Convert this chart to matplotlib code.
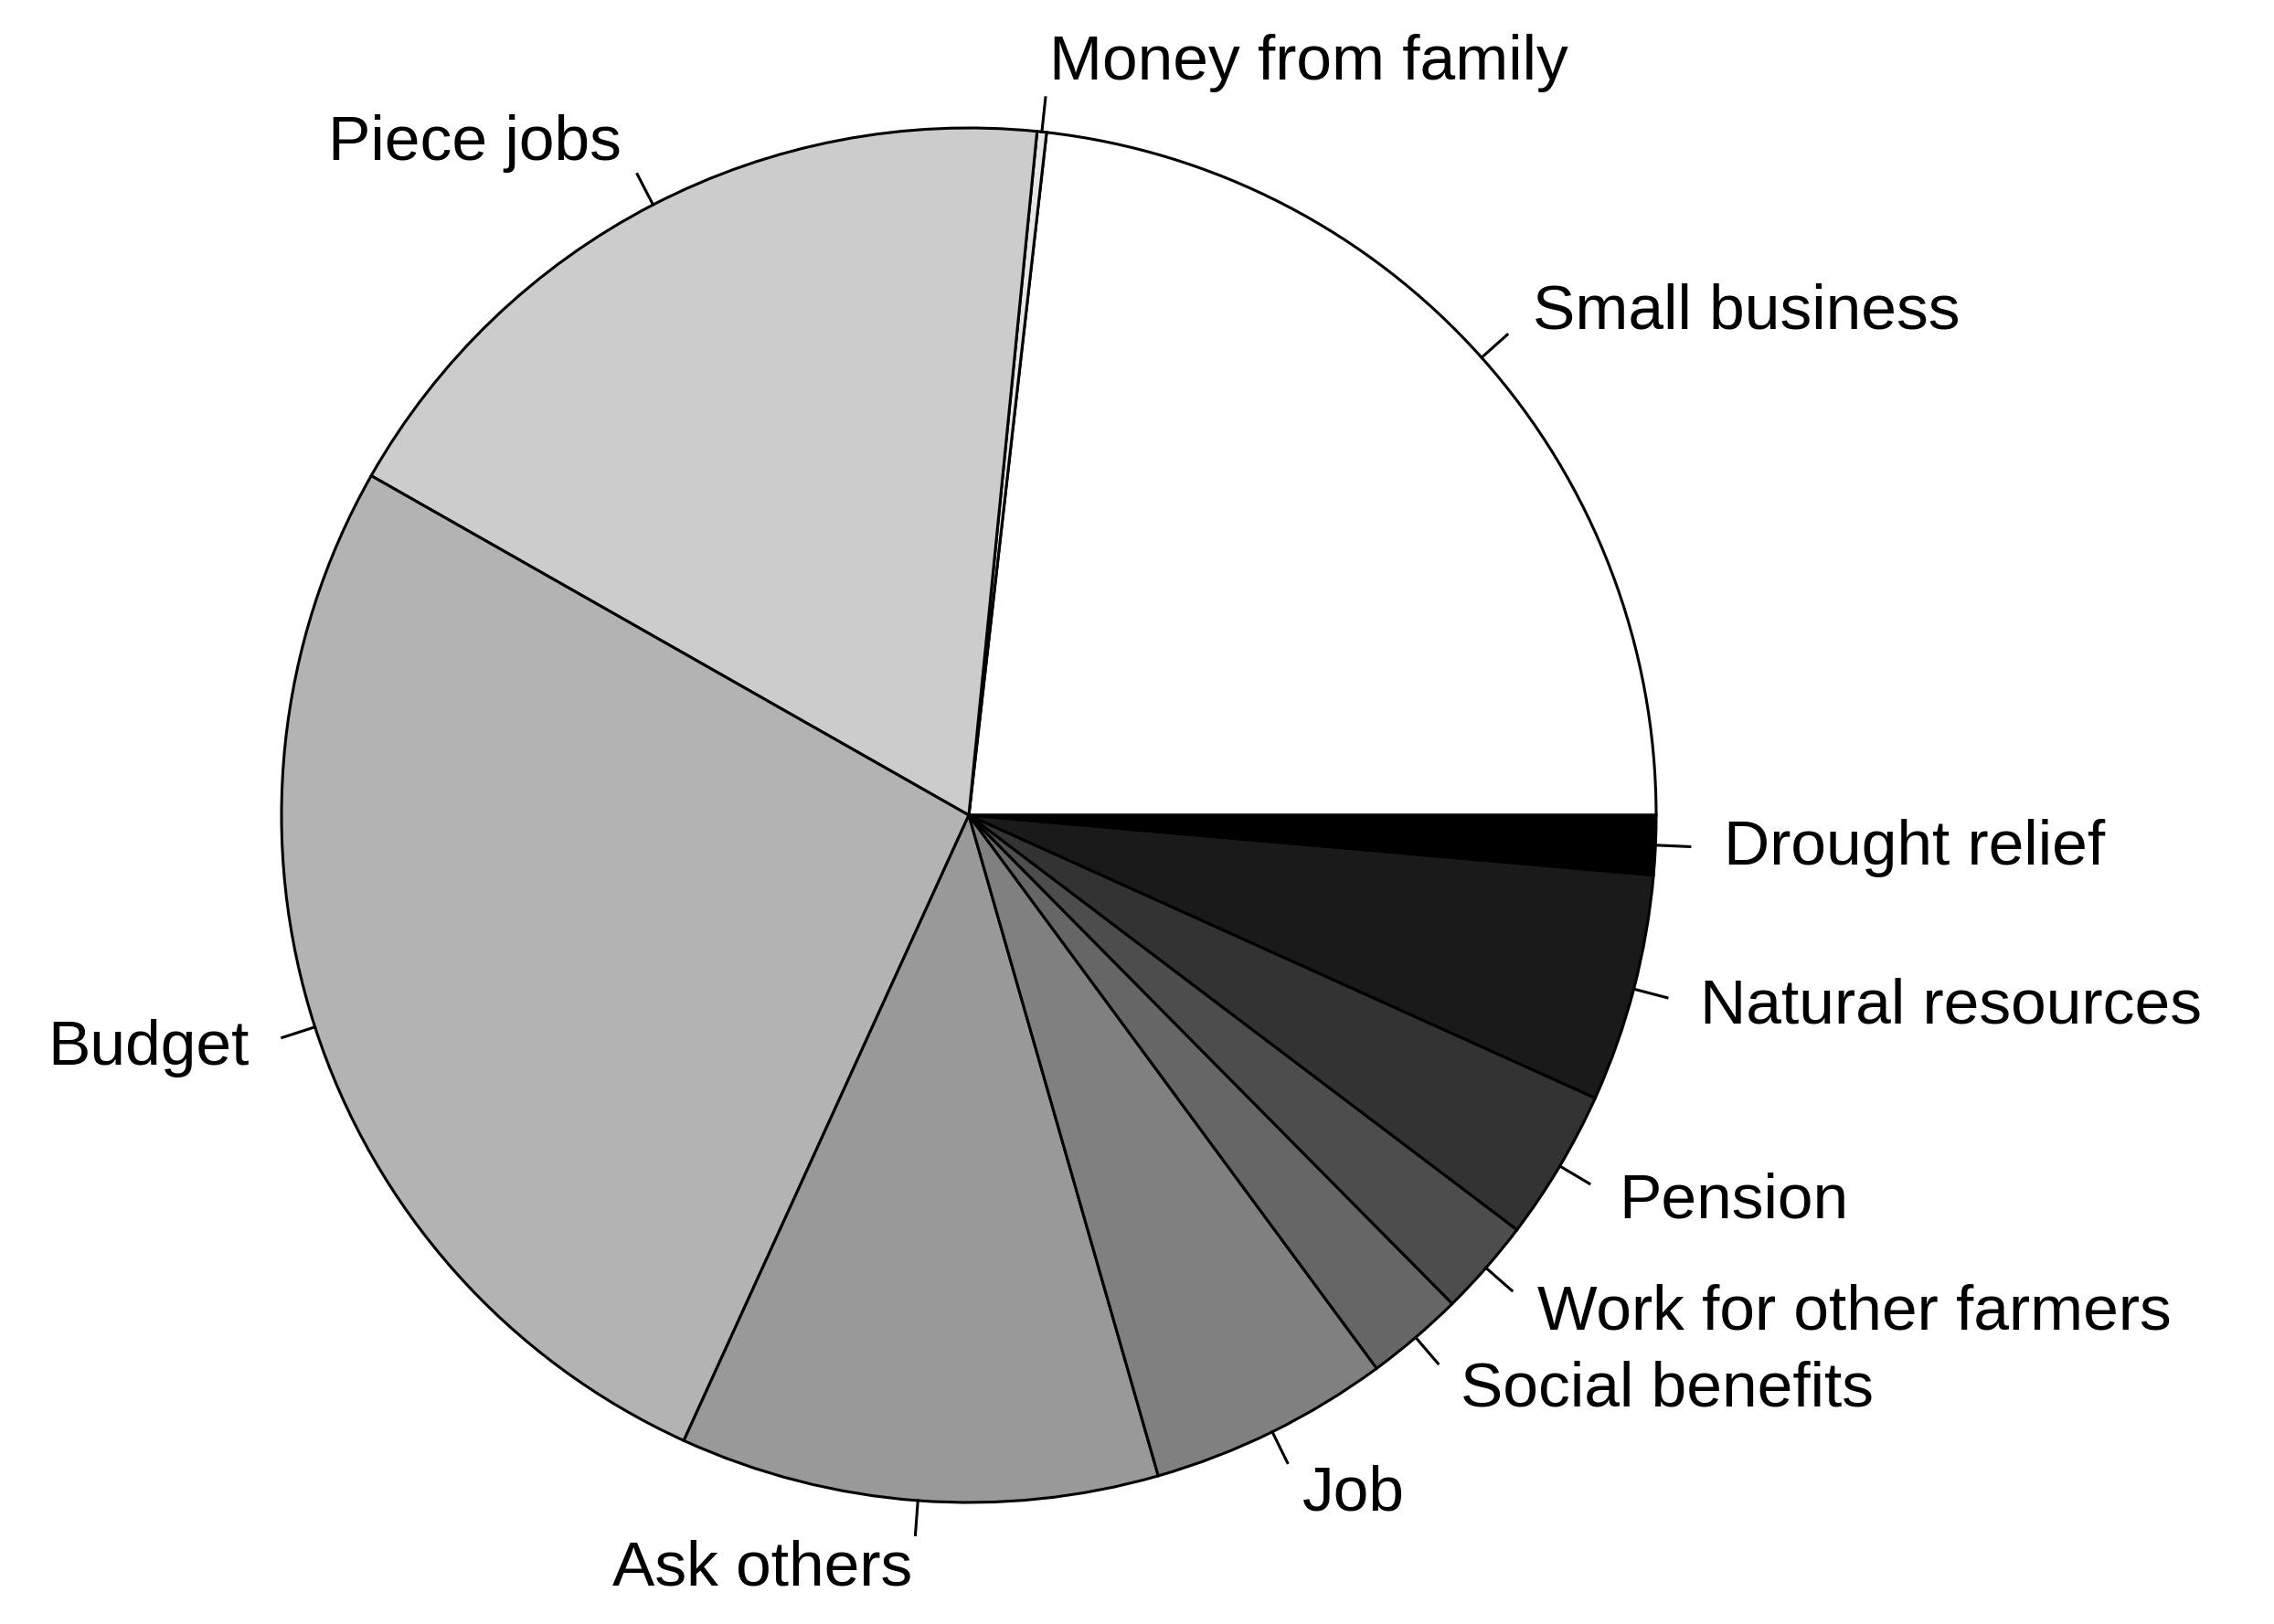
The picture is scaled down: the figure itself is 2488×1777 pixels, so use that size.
import matplotlib
matplotlib.use("Agg")
import matplotlib.pyplot as plt
import numpy as np

categories = ["Small business", "Money from family", "Piece jobs", "Budget", "Ask others",
              "Job", "Social benefits", "Work for other farmers", "Pension",
              "Natural resources", "Drought relief"]
values = [83.5, 0.8, 66.1, 95.1, 40.5, 20.4, 8.3, 8.2, 12.8, 19.3, 5.0]
colors = ["#ffffff", "#e6e6e6", "#cccccc", "#b3b3b3", "#999999", "#808080",
          "#666666", "#4d4d4d", "#333333", "#1a1a1a", "#000000"]

W, H = 2488, 1777
cx, cy, R = 1060, 892, 752
fig = plt.figure(figsize=(W/100, H/100), dpi=100)
ax = fig.add_axes([0, 0, 1, 1])
ax.set_xlim(-cx/R, (W-cx)/R)
ax.set_ylim(-(H-cy)/R, cy/R)
ax.set_aspect('equal')
ax.axis('off')

ax.pie(values, colors=colors, startangle=0, counterclock=True, radius=1,
       wedgeprops=dict(edgecolor='black', linewidth=2.2))
ax.set_xlim(-cx/R, (W-cx)/R)
ax.set_ylim(-(H-cy)/R, cy/R)

total = sum(values)
cum = np.cumsum([0] + values)
for i, lab in enumerate(categories):
    mid = np.deg2rad((cum[i] + cum[i+1]) / 2 / total * 360)
    c, s = np.cos(mid), np.sin(mid)
    ax.plot([c, 1.05*c], [s, 1.05*s], color='black', lw=2.2)
    ax.text(1.1*c, 1.1*s, lab, ha='left' if c > 0 else 'right', va='center',
            fontsize=50, family='Liberation Sans')

fig.savefig("out.png", dpi=100, facecolor='white')
